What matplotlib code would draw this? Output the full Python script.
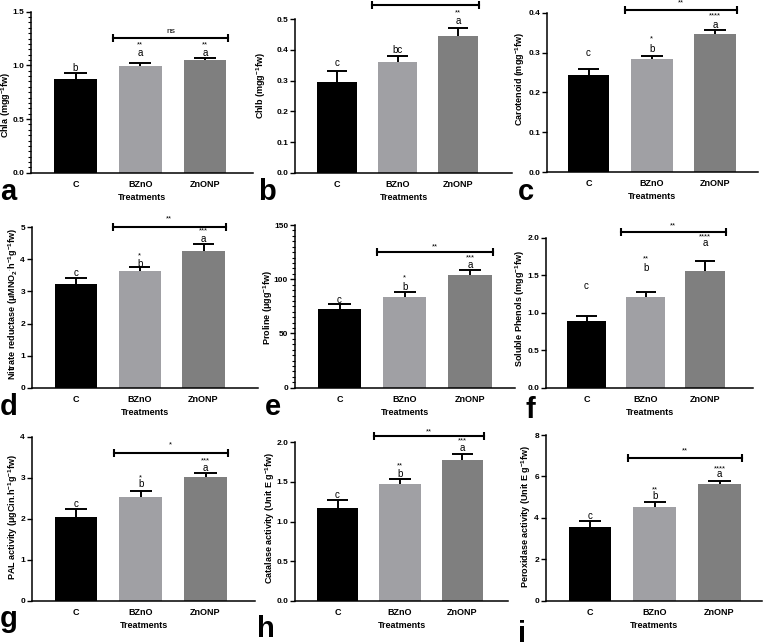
import matplotlib
matplotlib.use("Agg")
import matplotlib.pyplot as plt
from matplotlib.ticker import MultipleLocator, FormatStrFormatter
import numpy as np

plt.rcParams['font.family'] = ['Liberation Sans', 'DejaVu Sans']
plt.rcParams['mathtext.default'] = 'regular'

# ---------------- data ----------------
treatments = ["C", "BZnO", "ZnONP"]

chla = [0.87, 0.994, 1.05]
chla_err = [0.055, 0.03, 0.016]
chlb = [0.295, 0.361, 0.447]
chlb_err = [0.037, 0.02, 0.026]
carot = [0.244, 0.285, 0.346]
carot_err = [0.016, 0.007, 0.011]
nitrate = [3.22, 3.63, 4.27]
nitrate_err = [0.19, 0.12, 0.20]
proline = [72.8, 83.3, 103.6]
proline_err = [4.1, 4.9, 4.6]
phenols = [0.897, 1.214, 1.562]
phenols_err = [0.067, 0.071, 0.13]
pal = [2.03, 2.54, 3.01]
pal_err = [0.21, 0.13, 0.10]
catalase = [1.17, 1.47, 1.78]
catalase_err = [0.105, 0.07, 0.076]
perox = [3.55, 4.54, 5.63]
perox_err = [0.28, 0.21, 0.16]

letters_a = ["b", "a", "a"];   stars_a = ["", "**", "**"];   bracket_a = "ns"
letters_b = ["c", "bc", "a"];  stars_b = ["", "", "**"];     bracket_b = "**"
letters_c = ["c", "b", "a"];   stars_c = ["", "*", "****"];  bracket_c = "**"
letters_d = ["c", "b", "a"];   stars_d = ["", "*", "***"];   bracket_d = "**"
letters_e = ["c", "b", "a"];   stars_e = ["", "*", "***"];   bracket_e = "**"
letters_f = ["c", "b", "a"];   stars_f = ["", "**", "****"]; bracket_f = "**"
letters_g = ["c", "b", "a"];   stars_g = ["", "*", "***"];   bracket_g = "*"
letters_h = ["c", "b", "a"];   stars_h = ["", "**", "***"];  bracket_h = "**"
letters_i = ["c", "b", "a"];   stars_i = ["", "**", "****"]; bracket_i = "**"

ylabels = [
    "Chla (mgg$^{-1}$fw)",
    "Chlb (mgg$^{-1}$fw)",
    "Carotenoid (mgg$^{-1}$fw)",
    "Nitrate reductase (μMNO$_{2}$$^{\\cdot}$h$^{-1}$g$^{-1}$fw)",
    "Proline (μgg$^{-1}$fw)",
    "Soluble Phenols (mgg$^{-1}$fw)",
    "PAL activity (μgCin.h$^{-1}$g$^{-1}$fw)",
    "Catalase activity (Unit E g$^{-1}$fw)",
    "Peroxidase activity (Unit E g$^{-1}$fw)",
]
panel_letters = ["a", "b", "c", "d", "e", "f", "g", "h", "i"]

values = [chla, chlb, carot, nitrate, proline, phenols, pal, catalase, perox]
errors = [chla_err, chlb_err, carot_err, nitrate_err, proline_err, phenols_err,
          pal_err, catalase_err, perox_err]
letters = [letters_a, letters_b, letters_c, letters_d, letters_e, letters_f,
           letters_g, letters_h, letters_i]
stars = [stars_a, stars_b, stars_c, stars_d, stars_e, stars_f, stars_g, stars_h, stars_i]
brackets = [bracket_a, bracket_b, bracket_c, bracket_d, bracket_e, bracket_f,
            bracket_g, bracket_h, bracket_i]

# ---------------- layout (pixels) ----------------
W, H = 763, 644
# left, right, top, bottom, ymax, ystep, center of first bar, center of last bar
layout = [
    (31, 253, 11.7, 172.7, 1.5, 0.5, 75.5, 205.0),
    (295, 512, 19.3, 172.7, 0.5, 0.1, 337.0, 458.0),
    (547, 758, 12.7, 172.3, 0.4, 0.1, 588.5, 715.0),
    (32, 258, 227.3, 387.7, 5, 1, 75.7, 203.5),
    (295, 515, 225.0, 387.7, 150, 50, 339.5, 470.0),
    (546, 753, 238.0, 387.7, 2.0, 0.5, 586.5, 705.0),
    (32, 255, 436.7, 600.7, 4, 1, 76.0, 205.5),
    (295, 508, 442.3, 600.7, 2.0, 0.5, 337.5, 462.5),
    (546, 762, 435.0, 600.7, 8, 2, 590.0, 719.5),
]
tick_fmt = ["%.1f", "%.1f", "%.1f", "%d", "%d", "%.1f", "%d", "%.1f", "%d"]
minor = [True, False, False, False, True, False, False, False, False]
# annotation heights (data units): letters, stars, bracket, bracket label
annot = [
    ([0.98, 1.115, 1.115], [None, 1.19, 1.19], 1.258, 1.314),
    ([0.357, 0.40, 0.495], [None, None, 0.522], 0.547, 0.563),
    ([0.298, 0.309, 0.369], [None, 0.334, 0.391], 0.407, 0.424),
    ([3.57, 3.85, 4.63], [None, 4.11, 4.90], 5.02, 5.26),
    ([81.1, 93.1, 113.1], [None, 100.9, 119.8], 125.1, 130.0),
    ([1.36, 1.60, 1.933], [None, 1.72, 2.01], 2.08, 2.165),
    ([2.37, 2.84, 3.24], [None, 3.00, 3.41], 3.61, 3.80),
    ([1.34, 1.60, 1.93], [None, 1.70, 2.02], 2.08, 2.13),
    ([4.09, 5.05, 6.10], [None, 5.34, 6.34], 6.88, 7.24),
]
# right edge (px) of the rotated y label, and its vertical centre (axes fraction)
ylabel_x = [13, 268, 527, 20, 275, 527, 20, 277, 533]
ylabel_y = [0.42, 0.565, 0.588, 0.52, 0.49, 0.53, 0.51, 0.52, 0.51]
letter_pos = [(0, 200), (258, 200), (518, 200), (0, 415), (265, 415), (525, 418),
              (0, 627), (257, 637), (518, 642)]

bar_colors = ["#000000", "#a0a0a4", "#7f7f7f"]
bar_w = 0.66
cap_half = 0.17
br_x0, br_x1 = 0.58, 2.35

fig = plt.figure(figsize=(W / 100, H / 100), dpi=100)
fig.patch.set_facecolor("white")

for k in range(9):
    L, R, T, B, ymax, ystep, c0, c2 = layout[k]
    s = (c2 - c0) / 2.0
    ax = fig.add_axes([L / W, 1 - B / H, (R - L) / W, (B - T) / H])
    x = np.arange(len(treatments))
    vals = np.array(values[k]); errs = np.array(errors[k])
    ax.bar(x, vals, width=bar_w, color=bar_colors, edgecolor="none", zorder=2)
    ax.vlines(x, vals, vals + errs, color="black", lw=1.4, zorder=3)
    ax.hlines(vals + errs, x - cap_half, x + cap_half, color="black", lw=1.4, zorder=3)
    ax.set_xlim((L - c0) / s, (R - c0) / s)
    ax.set_ylim(0, ymax)
    ax.set_xticks(x)
    ax.set_xticklabels(treatments, fontsize=6.5, fontweight="bold")
    ax.tick_params(axis="x", length=0, pad=5)
    ax.yaxis.set_major_locator(MultipleLocator(ystep))
    ax.yaxis.set_major_formatter(FormatStrFormatter(tick_fmt[k]))
    ax.tick_params(axis="y", length=3.5, width=1.0, labelsize=6, pad=1.5)
    if minor[k]:
        ax.yaxis.set_minor_locator(MultipleLocator(ystep / 10))
        ax.tick_params(axis="y", which="minor", length=2, width=0.8)
    for lab in ax.get_yticklabels():
        lab.set_fontweight("bold")
    for sp in ["top", "right"]:
        ax.spines[sp].set_visible(False)
    for sp in ["left", "bottom"]:
        ax.spines[sp].set_linewidth(1.1)
    ax.set_xlabel("Treatments", fontsize=6.5, fontweight="bold", labelpad=3)
    ax.set_ylabel(ylabels[k], fontsize=6.5, fontweight="bold")
    ax.yaxis.set_label_coords((ylabel_x[k] - L) / (R - L), ylabel_y[k])

    ly, sy, by, bly = annot[k]
    for j in range(3):
        ax.text(x[j], ly[j], letters[k][j], ha="center", va="center", fontsize=7,
                clip_on=False)
        if stars[k][j]:
            ax.text(x[j], sy[j], stars[k][j], ha="center", va="center", fontsize=5.5,
                    clip_on=False)
    ax.plot([br_x0, br_x1], [by, by], color="black", lw=1.5, clip_on=False,
            marker="|", markersize=6, markeredgewidth=1.5)
    ax.text((br_x0 + br_x1) / 2, bly, brackets[k], ha="center", va="center",
            fontsize=6 if brackets[k] == "ns" else 5.5, clip_on=False)

    px, py = letter_pos[k]
    fig.text(px / W, 1 - py / H, panel_letters[k], fontsize=21, fontweight="bold",
             ha="left", va="baseline")

fig.savefig("out.png", dpi=100)
